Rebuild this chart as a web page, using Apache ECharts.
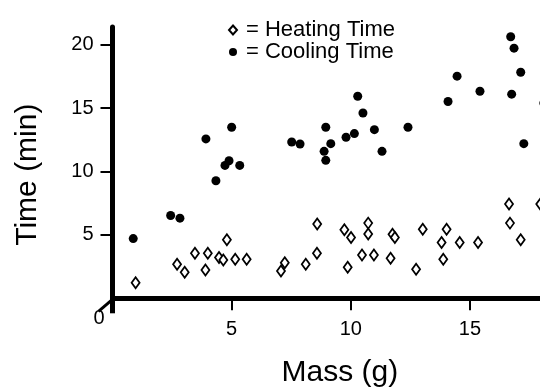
<!DOCTYPE html>
<html>
<head>
<meta charset="utf-8">
<script src="https://cdn.jsdelivr.net/npm/echarts@6/dist/echarts.min.js"></script>
<style>
html,body{margin:0;padding:0;background:#fff;}
#chart{width:540px;height:392px;}
</style>
</head>
<body>
<div id="chart"></div>
<script>
// Heating time (open diamonds)
const heatingMass = [0.97, 2.71, 3.03, 3.46, 3.90, 4.00, 4.47, 4.65, 4.80, 5.15, 5.63, 7.07, 7.23, 8.11, 8.58, 8.59, 9.73, 9.87, 10.01, 10.47, 10.73, 10.73, 10.97, 11.67, 11.75, 11.85, 12.74, 13.02, 13.81, 13.88, 14.02, 14.57, 15.34, 16.64, 16.68, 17.13, 17.95];
const heatingTime = [1.23, 2.69, 2.06, 3.56, 2.24, 3.56, 3.21, 3.03, 4.61, 3.08, 3.08, 2.16, 2.81, 2.69, 3.56, 5.87, 5.40, 2.45, 4.79, 3.42, 5.93, 5.08, 3.42, 3.16, 5.05, 4.80, 2.29, 5.45, 4.40, 3.08, 5.45, 4.40, 4.40, 7.43, 5.93, 4.61, 7.43];
// Cooling time (filled circles)
const coolingMass = [0.87, 2.44, 2.83, 3.92, 4.34, 4.72, 4.89, 5.00, 5.34, 7.52, 7.87, 8.88, 8.95, 8.95, 9.16, 9.80, 10.15, 10.29, 10.51, 10.99, 11.31, 12.40, 14.08, 14.46, 15.42, 16.71, 16.75, 16.85, 17.13, 17.26, 18.10];
const coolingTime = [4.71, 6.53, 6.32, 12.57, 9.27, 10.48, 10.85, 13.49, 10.48, 12.33, 12.17, 11.59, 10.88, 13.49, 12.20, 12.70, 12.99, 15.94, 14.62, 13.30, 11.59, 13.49, 15.52, 17.52, 16.33, 20.63, 16.10, 19.73, 17.83, 12.20, 15.40];
const xTicks = [5, 10, 15, 20];
const yTicks = [5, 10, 15, 20];
const seriesNames = ['Heating Time', 'Cooling Time'];
const xTitle = 'Mass (g)';
const yTitle = 'Time (min)';

const FONT = 'Liberation Sans, Arial, Helvetica, sans-serif';
const zip = (a, b) => a.map((v, i) => [v, b[i]]);

const chart = echarts.init(document.getElementById('chart'), null, {renderer: 'canvas'});
chart.setOption({
  animation: false,
  backgroundColor: '#fff',
  textStyle: {fontFamily: FONT, color: '#000'},
  grid: {left: 112.5, top: 27, bottom: 93.7, right: -49.1, outerBoundsMode: 'none', containLabel: false},
  legend: {
    orient: 'vertical', left: 228, top: 19, padding: 0, itemGap: 0,
    itemWidth: 8, itemHeight: 9,
    formatter: n => '{t|= ' + n + '}',
    textStyle: {
      fontFamily: FONT, fontSize: 22, color: '#000',
      rich: {t: {fontFamily: FONT, fontSize: 22, color: '#000', padding: [0, 0, 0, 4]}}
    },
    data: seriesNames
  },
  xAxis: {
    type: 'value', min: 0, max: 20,
    splitLine: {show: false},
    axisLine: {lineStyle: {color: '#000', width: 5}, onZero: false},
    axisTick: {show: true, length: 12, lineStyle: {color: '#000', width: 2}, customValues: xTicks},
    axisLabel: {color: '#000', fontFamily: FONT, fontSize: 20, margin: 21, customValues: xTicks},
    name: xTitle, nameLocation: 'middle', nameGap: 59,
    nameTextStyle: {fontFamily: FONT, fontSize: 30, color: '#000', padding: [0, 22, 0, 0]}
  },
  yAxis: {
    type: 'value', min: 0, max: 21.4,
    splitLine: {show: false},
    axisLine: {show: true, lineStyle: {color: '#000', width: 5}, onZero: false},
    axisTick: {show: true, length: 12, lineStyle: {color: '#000', width: 2}, customValues: yTicks},
    axisLabel: {color: '#000', fontFamily: FONT, fontSize: 20, margin: 19, customValues: yTicks},
    name: yTitle, nameLocation: 'middle', nameRotate: 90, nameGap: 70,
    nameTextStyle: {fontFamily: FONT, fontSize: 30, color: '#000', padding: [0, 24, 0, 0]}
  },
  series: [
    {
      name: seriesNames[0], type: 'scatter', symbol: 'diamond', symbolSize: [8, 11],
      itemStyle: {color: '#fff', borderColor: '#000', borderWidth: 1.8, opacity: 1},
      data: zip(heatingMass, heatingTime), z: 3
    },
    {
      name: seriesNames[1], type: 'scatter', symbol: 'circle', symbolSize: 9,
      itemStyle: {color: '#000', opacity: 1},
      data: zip(coolingMass, coolingTime), z: 4
    }
  ]
});

// origin decorations: "0" label, axis extension and diagonal break mark
const o = chart.convertToPixel({gridIndex: 0}, [0, 0]);
chart.setOption({
  graphic: [
    {type: 'line', shape: {x1: o[0], y1: o[1], x2: o[0], y2: o[1] + 15}, style: {stroke: '#000', lineWidth: 5}},
    {type: 'line', shape: {x1: o[0] - 14, y1: o[1] + 13, x2: o[0], y2: o[1] + 1}, style: {stroke: '#000', lineWidth: 3}},
    {type: 'text', x: o[0] - 13.5, y: o[1] + 20, style: {text: '0', font: '20px ' + FONT, fill: '#000', align: 'center', verticalAlign: 'middle'}}
  ]
});
</script>
</body>
</html>
